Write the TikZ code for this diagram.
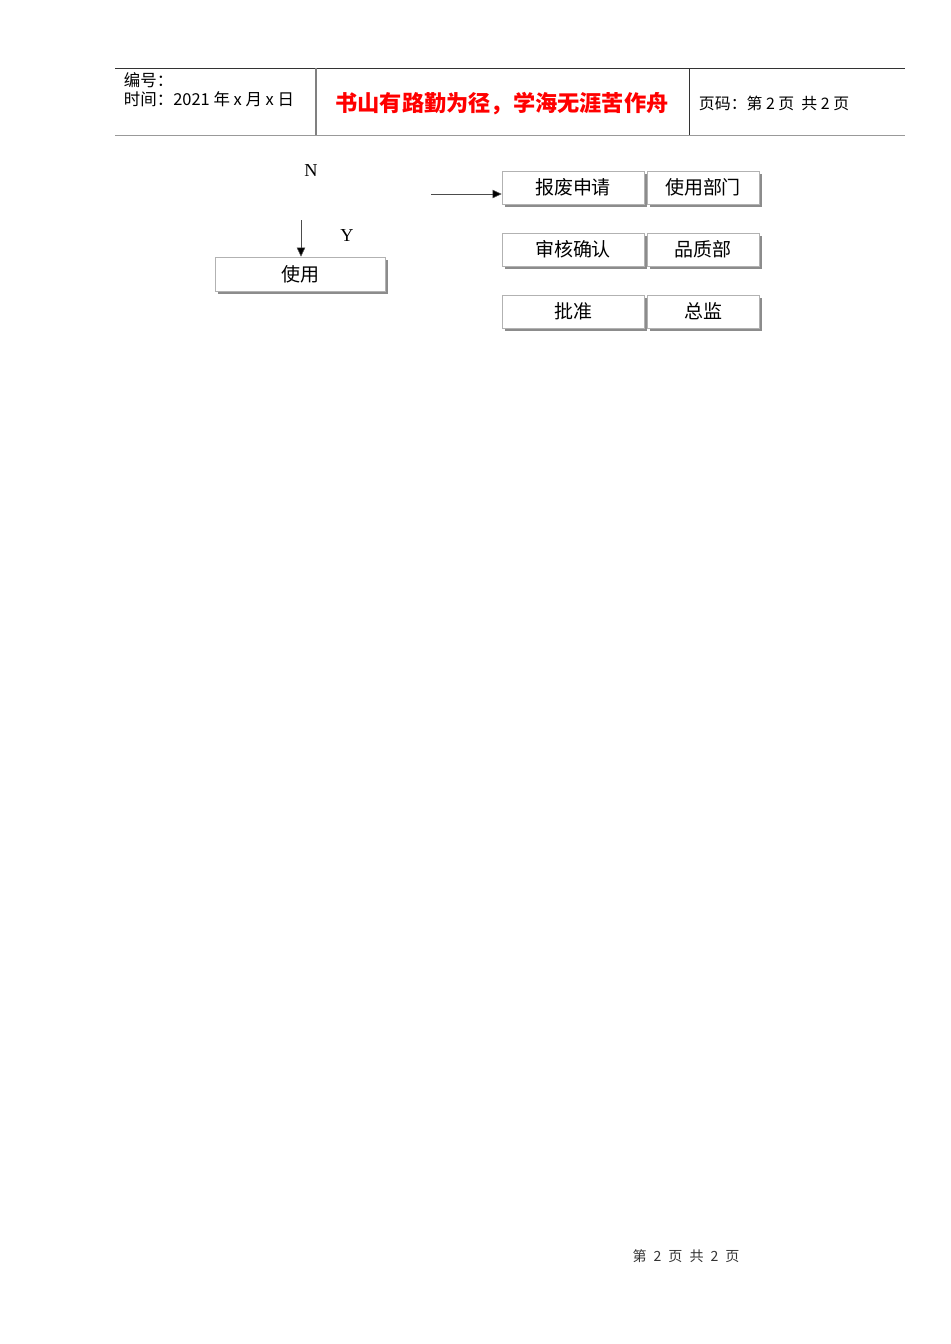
\documentclass[tikz,border=0pt]{standalone}
\usepackage{fontspec}
\setmainfont{Liberation Serif}
\newfontfamily\cjk{Noto Sans CJK SC}
\usetikzlibrary{shadows,arrows.meta}

\tikzset{
  stepbox/.style={draw=gray!60,line width=0.4pt,fill=white,inner sep=0pt,
    minimum height=0.825cm,font=\cjk\fontsize{13.5}{15}\selectfont,
    drop shadow={shadow xshift=0.07cm,shadow yshift=-0.07cm,fill=gray!90,opacity=1}},
  flowarrow/.style={-{Triangle[length=6.5pt,width=6pt,fill=black]},line width=0.4pt,draw=black!70}
}

\begin{document}
\begin{tikzpicture}[x=0.025cm,y=-0.025cm]
\useasboundingbox (0,0) rectangle (950,1344);

% header
\draw[black!80,line width=0.6pt] (115,68) -- (905,68);
\draw[gray!80,line width=1.2pt] (115,135.5) -- (905,135.5);
\draw[gray,line width=0.8pt] (316,68) -- (316,135);
\draw[black!80,line width=0.6pt] (689,68) -- (689,135);

\node(no)[anchor=west,font=\cjk\fontsize{11.7}{13}\selectfont] at (119,80) {编号：};
\node(date)[anchor=west,font=\cjk\fontsize{11.7}{13}\selectfont] at (119,99) {时间：2021 年 x 月 x 日};
\node(motto)[text=red,font=\cjk\bfseries\fontsize{15.8}{18}\selectfont] at (502,104) {书山有路勤为径，学海无涯苦作舟};
\node(page)[anchor=west,font=\cjk\fontsize{11.3}{13}\selectfont] at (694,103) {页码：第 2 页\ \ 共 2 页};

% flow
\node(n)[font=\fontsize{13}{15}\selectfont] at (311,171) {N};
\node(y)[font=\fontsize{13}{15}\selectfont] at (347,236) {Y};
\node(use)[stepbox,minimum width=4.25cm,minimum height=0.85cm] at (300,274) {使用};
\coordinate(top) at (301,220);
\coordinate(start) at (431,194);
\draw[flowarrow] (top) -- (use.north -| top);

\node(apply)[stepbox,minimum width=3.55cm] at (573,187.5) {报废申请};
\node(dept)[stepbox,minimum width=2.8cm] at (703,187.5) {使用部门};
\node(check)[stepbox,minimum width=3.55cm] at (573,249.5) {审核确认};
\node(qa)[stepbox,minimum width=2.8cm] at (703,249.5) {品质部};
\node(approve)[stepbox,minimum width=3.55cm] at (573,311.5) {批准};
\node(chief)[stepbox,minimum width=2.8cm] at (703,311.5) {总监};
\draw[flowarrow] (start) -- (start -| apply.west);

% footer
\node(foot)[font=\cjk\fontsize{10}{12}\selectfont,text=black!80] at (686,1256) {第\hspace{0.5em}2\hspace{0.5em}页\hspace{0.5em}共\hspace{0.5em}2\hspace{0.5em}页};
\end{tikzpicture}
\end{document}
